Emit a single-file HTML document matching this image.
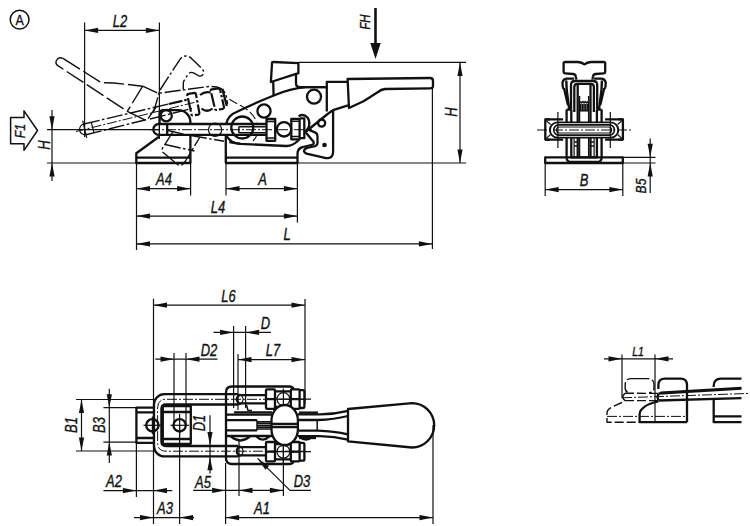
<!DOCTYPE html>
<html><head><meta charset="utf-8"><title>Toggle clamp drawing</title>
<style>
html,body{margin:0;padding:0;background:#fff;}
body{width:750px;height:526px;overflow:hidden;font-family:"Liberation Sans",sans-serif;}
svg{display:block;}
path,circle,ellipse,rect{fill:none;stroke:#111;stroke-linecap:butt;stroke-linejoin:round;}
.k{stroke-width:2.3;}
.m{stroke-width:1.5;}
.t{stroke-width:1.2;}
.p{stroke-width:1.4;stroke-dasharray:16 2.5 2.5 2.5;}
.pk{stroke-width:2.2;stroke-dasharray:14 2 2.5 2;}
.d{stroke-width:1.4;stroke-dasharray:20 4;}
.c{stroke-width:1.0;stroke-dasharray:10 2 2 2;}
.f{fill:#111;stroke:none;}
.w{fill:#fff;}
text{stroke:#111;stroke-width:0.35;font-family:"Liberation Sans",sans-serif;font-style:italic;fill:#111;text-anchor:middle;}
</style></head><body>
<svg width="750" height="526" viewBox="0 0 750 526">
<rect x="0" y="0" width="750" height="526" style="fill:#fff;stroke:none"/>
<circle class="m" cx="19.6" cy="19.6" r="9.4"/>
<text transform="translate(19.6 25) scale(0.8 1)" font-size="15.5" style="font-style:normal">A</text>
<path class="t" d="M84.6 22.5L84.6 137" />
<path class="t" d="M159.4 22.5L159.4 139" />
<path class="t" d="M84.6 30.4L159.4 30.4" />
<path class="f" d="M84.60 30.40L98.10 27.80L98.10 33.00Z"/>
<path class="f" d="M159.40 30.40L145.90 33.00L145.90 27.80Z"/>
<text transform="translate(120 26.6) scale(0.81 1)" font-size="16">L2</text>
<path class="m" d="M10.6 117.4H24V110.8L37.5 130.5L24 150.3V143.7H10.6Z" />
<text transform="translate(25 131) rotate(-90) scale(0.81 1)" font-size="15.5">F1</text>
<path class="t" d="M47 129.7L160 129.7" />
<path class="t" d="M47 163L136 163" />
<path class="t" d="M52 110L52 181" />
<path class="f" d="M52.00 129.70L49.40 116.20L54.60 116.20Z"/>
<path class="f" d="M52.00 163.00L54.60 176.50L49.40 176.50Z"/>
<text transform="translate(49.5 145) rotate(-90) scale(0.81 1)" font-size="16">H</text>
<path class="t" d="M136.5 162.8L136.5 250" />
<path class="t" d="M190.6 162.8L190.6 195.5" />
<path class="t" d="M226 152L226 195.5" />
<path class="t" d="M297.4 162.8L297.4 222.5" />
<path class="t" d="M136.5 188.7L190.6 188.7" />
<path class="f" d="M136.50 188.70L150.00 186.10L150.00 191.30Z"/>
<path class="f" d="M190.60 188.70L177.10 191.30L177.10 186.10Z"/>
<text transform="translate(164 184.7) scale(0.81 1)" font-size="16">A4</text>
<path class="t" d="M226 188.7L297.4 188.7" />
<path class="f" d="M226.00 188.70L239.50 186.10L239.50 191.30Z"/>
<path class="f" d="M297.40 188.70L283.90 191.30L283.90 186.10Z"/>
<text transform="translate(262.5 184.7) scale(0.81 1)" font-size="16">A</text>
<path class="t" d="M136.5 216.1L297.4 216.1" />
<path class="f" d="M136.50 216.10L150.00 213.50L150.00 218.70Z"/>
<path class="f" d="M297.40 216.10L283.90 218.70L283.90 213.50Z"/>
<text transform="translate(218 212.5) scale(0.81 1)" font-size="16">L4</text>
<path class="t" d="M432.4 88L432.4 249" />
<path class="t" d="M136.5 243.9L432.4 243.9" />
<path class="f" d="M136.50 243.90L150.00 241.30L150.00 246.50Z"/>
<path class="f" d="M432.40 243.90L418.90 246.50L418.90 241.30Z"/>
<text transform="translate(287 239.5) scale(0.81 1)" font-size="16">L</text>
<path class="t" d="M298.4 62.4L466 62.4" />
<path class="t" d="M297.4 163L466 163" />
<path class="t" d="M460 62.4L460 163" />
<path class="f" d="M460.00 62.40L462.60 75.90L457.40 75.90Z"/>
<path class="f" d="M460.00 163.00L457.40 149.50L462.60 149.50Z"/>
<text transform="translate(457 112) rotate(-90) scale(0.81 1)" font-size="16">H</text>
<path class="" d="M375.5 8V45"  style="stroke-width:2.6"/>
<path class="f" d="M375.5 59L370.3 43H380.7Z"/>
<text transform="translate(370.2 22) rotate(-90) scale(0.81 1)" font-size="14">FH</text>
<path class="t" d="M545.2 163L545.2 196" />
<path class="t" d="M622.8 163L622.8 196" />
<path class="t" d="M545.2 189.6L622.8 189.6" />
<path class="f" d="M545.20 189.60L558.70 187.00L558.70 192.20Z"/>
<path class="f" d="M622.80 189.60L609.30 192.20L609.30 187.00Z"/>
<text transform="translate(584 185.5) scale(0.81 1)" font-size="16">B</text>
<path class="t" d="M622.8 157.3L655.5 157.3" />
<path class="t" d="M622.8 163L655.5 163" />
<path class="t" d="M650.2 138.6L650.2 193" />
<path class="f" d="M650.20 157.30L647.60 143.80L652.80 143.80Z"/>
<path class="f" d="M650.20 163.00L652.80 176.50L647.60 176.50Z"/>
<text transform="translate(645.5 186) rotate(-90) scale(0.81 1)" font-size="15">B5</text>
<path class="t" d="M622 354.5L622 398" />
<path class="t" d="M655 354.5L655 421.7" />
<path class="t" d="M604 358.8L673 358.8" />
<path class="f" d="M622.00 358.80L608.50 361.40L608.50 356.20Z"/>
<path class="f" d="M655.00 358.80L668.50 356.20L668.50 361.40Z"/>
<text transform="translate(638 356) scale(0.81 1)" font-size="13">L1</text>
<path class="t" d="M153.5 298.7L153.5 456" />
<path class="t" d="M305 299L305 404" />
<path class="t" d="M153.5 305.2L305 305.2" />
<path class="f" d="M153.50 305.20L167.00 302.60L167.00 307.80Z"/>
<path class="f" d="M305.00 305.20L291.50 307.80L291.50 302.60Z"/>
<text transform="translate(228.5 301.5) scale(0.81 1)" font-size="16">L6</text>
<path class="t" d="M233.6 326L233.6 408" />
<path class="t" d="M245.6 326L245.6 408" />
<path class="t" d="M213.5 332.4L271 332.4" />
<path class="f" d="M233.60 332.40L220.10 335.00L220.10 329.80Z"/>
<path class="f" d="M245.60 332.40L259.10 329.80L259.10 335.00Z"/>
<text transform="translate(265.5 329.3) scale(0.81 1)" font-size="16">D</text>
<path class="t" d="M238 354L238 410" />
<path class="t" d="M238 359.6L305 359.6" />
<path class="f" d="M238.00 359.60L251.50 357.00L251.50 362.20Z"/>
<path class="f" d="M305.00 359.60L291.50 362.20L291.50 357.00Z"/>
<text transform="translate(273 355.6) scale(0.81 1)" font-size="16">L7</text>
<path class="t" d="M174 353L174 425" />
<path class="t" d="M186 353L186 425" />
<path class="t" d="M155.3 359.2L217.5 359.2" />
<path class="f" d="M174.00 359.20L160.50 361.80L160.50 356.60Z"/>
<path class="f" d="M186.00 359.20L199.50 356.60L199.50 361.80Z"/>
<text transform="translate(209 356) scale(0.81 1)" font-size="16">D2</text>
<path class="t" d="M76 399.5L155 399.5" />
<path class="t" d="M76 451L155 451" />
<path class="t" d="M81.5 399.5L81.5 451" />
<path class="f" d="M81.50 399.50L84.10 413.00L78.90 413.00Z"/>
<path class="f" d="M81.50 451.00L78.90 437.50L84.10 437.50Z"/>
<text transform="translate(77 425) rotate(-90) scale(0.81 1)" font-size="16">B1</text>
<path class="t" d="M103.4 407.7L137 407.7" />
<path class="t" d="M103.4 442.1L137 442.1" />
<path class="t" d="M109.3 388.7L109.3 463.1" />
<path class="f" d="M109.30 407.70L106.70 394.20L111.90 394.20Z"/>
<path class="f" d="M109.30 442.10L111.90 455.60L106.70 455.60Z"/>
<text transform="translate(105 425) rotate(-90) scale(0.81 1)" font-size="16">B3</text>
<path class="t" d="M136.4 443L136.4 497" />
<path class="t" d="M153.5 456L153.5 524" />
<path class="t" d="M103.4 490.6L172.3 490.6" />
<path class="f" d="M136.40 490.60L122.90 493.20L122.90 488.00Z"/>
<path class="f" d="M153.50 490.60L167.00 488.00L167.00 493.20Z"/>
<text transform="translate(114 487) scale(0.81 1)" font-size="16">A2</text>
<path class="t" d="M179.6 425L179.6 524" />
<path class="t" d="M134 517.6L194 517.6" />
<path class="f" d="M153.50 517.60L140.00 520.20L140.00 515.00Z"/>
<path class="f" d="M179.60 517.60L193.10 515.00L193.10 520.20Z"/>
<text transform="translate(165 514) scale(0.81 1)" font-size="16">A3</text>
<path class="t" d="M210 415.2L210 473.6" />
<path class="f" d="M210.00 445.60L207.40 432.10L212.60 432.10Z"/>
<path class="f" d="M210.00 456.80L212.60 470.30L207.40 470.30Z"/>
<text transform="translate(205 423) rotate(-90) scale(0.81 1)" font-size="16">D1</text>
<path class="t" d="M225.6 463L225.6 524" />
<path class="t" d="M239 440L239 496" />
<path class="t" d="M283.4 440L283.4 496" />
<path class="t" d="M193 490.4L283.4 490.4" />
<path class="f" d="M225.60 490.40L212.10 493.00L212.10 487.80Z"/>
<path class="f" d="M239.00 490.40L252.50 487.80L252.50 493.00Z"/>
<path class="f" d="M283.40 490.40L269.90 493.00L269.90 487.80Z"/>
<text transform="translate(203 487.5) scale(0.81 1)" font-size="16">A5</text>
<path class="t" d="M257.6 458.4L290 490.4H311" />
<path class="f" d="M257.60 458.40L269.04 466.03L265.39 469.73Z"/>
<text transform="translate(302 487) scale(0.81 1)" font-size="16">D3</text>
<path class="t" d="M433 425L433 524" />
<path class="t" d="M225.6 517.6L433 517.6" />
<path class="f" d="M225.60 517.60L239.10 515.00L239.10 520.20Z"/>
<path class="f" d="M433.00 517.60L419.50 520.20L419.50 515.00Z"/>
<text transform="translate(262 513.6) scale(0.81 1)" font-size="16">A1</text>
<path class="k" d="M136.3 163V153.2L159 136.8" />
<path class="k" d="M136.3 157.7H190.4" />
<path class="k" d="M135.5 163H191.2" />
<path class="k" d="M159.6 124.2V113.5Q159.6 110.1 163.5 110.1H178.4A12 12 0 0 1 190.4 122.1V124" />
<path class="k" d="M190.4 135V163" />
<circle class="k" cx="166.2" cy="115.7" r="5.6"/>
<path class="k" d="M266.5 124H158.8A5.4 5.4 0 0 0 158.8 134.9H266.5" />
<path class="k" d="M167.2 124V134.9" />
<path class="t" d="M159.4 124L159.4 135" />
<path class="c" d="M150 129.7H312" />
<circle class="t" cx="215.1" cy="129.8" r="6.6"/>
<path class="m" d="M238.8 126.8H265.5M238.8 132.8H265.5M238.8 126.8V132.8" />
<circle class="k" cx="242.3" cy="127.5" r="11"/>
<path class="k" d="M226.2 123.7A16.5 16.5 0 0 1 236.5 112Q256 102.5 274.4 95.2Q290 88.5 306 87.1H326.8" />
<path class="k" d="M226.2 135.3A16.5 16.5 0 0 0 240.5 143.9" />
<path class="k" d="M225.8 135.3V163" />
<path class="k" d="M229.3 142L240.5 143.9L286 146Q293 146.2 299 139.8" />
<path class="k" d="M225.8 157.7H297.5" />
<path class="k" d="M225 163H298.3" />
<path class="k" d="M297.5 163V154Q297.6 148 303 147L312 144.8" />
<circle class="k" cx="264" cy="111" r="6.6"/>
<circle class="k" cx="314" cy="96.7" r="7"/>
<path class="k" d="M266.5 119H275.2V140.8H266.5Z" />
<path class="m" d="M266.5 121.5H275.2M266.5 138H275.2" />
<circle class="k" cx="284" cy="129.3" r="7.2"/>
<path class="k" d="M291.3 118.9H299.6V139.3H291.3Z" />
<path class="m" d="M291.3 121.2H299.6M291.3 136.5H299.6" />
<path class="k" d="M300 118.4H304.3V138.2H300" />
<path class="k" d="M298.6 116.3Q303.3 113.3 307.5 117.5Q310.5 121.5 308.5 127.8L305.6 131.5" />
<path class="k" d="M272 63.2Q272 62 273.5 62L298.4 63.1V73.2L270.9 82Z" />
<path class="k" d="M273.2 81.2L273.6 95.4" />
<path class="k" d="M296 74V83.5Q296 87 300 87.1H326" />
<path class="k" d="M326.8 111.6V81.8H347.6" />
<path class="k" d="M305.4 132L327 114.5Q330 112 333 110.2L348 105.3" />
<path class="k" d="M333.1 111V152Q333.1 158.6 326 158.1L306.5 153.6Q303.3 152 304.3 150Q305 148.3 307 148L315 146.2Q317.6 145.5 317.5 142.4V136.5Q317.3 133 315 132.4L309 130" />
<path class="k" d="M312 144.8Q314.5 144 313.5 141.8L305.4 132" />
<circle class="k" cx="321.6" cy="123.1" r="3.6"/>
<circle class="k" cx="324.5" cy="145" r="1.2"/>
<path class="k" d="M347.6 79L430 78Q433 78 433 81V86Q433 88.4 430 88.4L385 89Q381 89.5 378 92L364 101L349 108Z" />
<path class="d" d="M63 58.4L100 81.8Q101 82.7 103 82.8L114 83L142.7 86.2" />
<path class="d" d="M63 58.4Q58.5 56.5 56.4 60.5Q55 63.5 57.8 65.6L127.3 111.3" />
<path class="d" d="M142.7 86.2L127.3 111.3" />
<path class="d" d="M127.3 111.3L146.7 120.7L156 107" />
<path class="p" d="M142.7 86.2L156.7 92.7Q160 93.5 166 92.3L206.7 86.7Q216 85.8 221 88.5Q225.3 91 226.5 97L227.5 104" />
<path class="p" d="M153.3 112.7L160 90L180 59.3Q183 55.5 187 56Q190 56.5 192 59L202 68.7Q204.5 71.5 203.3 74Q202 76.5 199 76L193.5 72.8Q190 71.5 188 74.5L183.8 81Q183.3 82 183.3 84V89.5" />
<path class="p" d="M84 124L168.7 104M86 134.7L146 119.7" />
<path class="t" d="M84 124A5.3 5.3 0 0 0 86 134.7" />
<path class="c" d="M76 131.5L196 102" />
<path class="t" d="M91.3 122.7L94 132.7" />
<path class="t" d="M82.7 120.7L86.7 138" />
<path class="p" d="M150 119L192 108.5" />
<path class="pk" d="M168.7 104L188 99.5" />
<path class="pk" d="M187.3 95.2Q187 94 188.5 93.8L194.5 92.8Q195.6 92.7 195.9 94L199.4 113Q199.6 114.3 198.3 114.6L193 115.5Q191.8 115.6 191.5 114.4Z" />
<path class="pk" d="M210.7 90.8Q210.5 89.6 211.8 89.4L218.5 88.4Q219.8 88.3 220.1 89.6L224 107.2Q224.2 108.5 222.8 108.8L216.5 110Q215.3 110.1 215 109Z" />
<path class="k" d="M222.3 88.7L226.8 106" />
<path class="pk" d="M200 95Q205 91 210.7 92.5M201.5 108.5Q207 113 212.5 108.5" />
<path class="d" d="M229.3 99.3L240 105.3Q252 111 256.8 122M256.8 135.2Q255.5 138.5 253 141"  style="stroke-dasharray:9 3;stroke-width:1.1"/>
<path class="p" d="M173 131.5L162.6 148Q161 151 163.5 152.8L177.5 164.5Q180.5 166.5 183 164L185.5 161L200 137" />
<path class="p" d="M165 144.5L194.5 151" />
<path class="p" d="M168 130.5L184.8 134.4L224 141.3" />
<path class="k" d="M545.2 157.3H622.8V163H545.2Z" />
<path class="k" d="M566.6 109.6V157.5Q566.6 162 571 162H597.2Q601.6 162 601.6 157.5V109.6" />
<path class="k" d="M571.3 109.6V157.3H596.9V109.6" />
<path class="k" d="M577.7 84V157.3" />
<path class="k" d="M590.5 84V157.3" />
<path class="m" d="M579.5 96V122M579.5 138V157.3" />
<path class="m" d="M588.7 96V122M588.7 138V157.3" />
<path class="t" d="M574.1 138V157.3" />
<path class="t" d="M594.1 138V157.3" />
<path class="m" d="M574.1 142H577.7M574.1 146H577.7" />
<path class="m" d="M594.1 142H590.5M594.1 146H590.5" />
<path class="k" d="M549.9 119.4H545.3V139.6H549.9" />
<path class="k" d="M618.3 119.4H622.9V139.6H618.3" />
<path class="k" d="M545.3 119.4H563.1M545.3 139.6H563.1" />
<path class="k" d="M622.9 119.4H605.1M622.9 139.6H605.1" />
<path class="t" d="M546.3 120.6L550.6 124.5M546.3 138.4L550.6 134.5" />
<path class="t" d="M621.9 120.6L617.6 124.5M621.9 138.4L617.6 134.5" />
<rect class="k w" x="549.9" y="122.4" width="68.4" height="15.2" rx="7.6" style="stroke-width:1.9"/>
<rect class="k" x="553.7" y="124.9" width="60.8" height="10.2" rx="5.1" style="stroke-width:1.6"/>
<rect class="m" x="556.5" y="127" width="55.2" height="6" rx="3" style="stroke-width:1.1"/>
<path class="c" d="M537 130H631" />
<path class="t" d="M557.9 112L557.9 148" />
<path class="t" d="M610.3 112L610.3 148" />
<path class="k" d="M576.4 79.6L575.8 76.5Q575.5 74.3 573 74L565 73.3Q563.6 73.2 563.6 71.8V63.5Q563.6 62 565 62H578Q582 62.3 584.4 64.4Q587 62.3 591 62H603.8Q605.2 62 605.2 63.5V71.8Q605.2 73.2 603.8 73.3L595.8 74Q593.3 74.3 593 76.5L592.4 79.6" />
<path class="k" d="M574.1 78.6H566.5Q563.1 79 562.5 82.5L562.7 86.5Q562.9 88.6 564.1 88.8L567.9 105" />
<path class="k" d="M594.1 78.6H601.7Q605.1 79 605.7 82.5L605.5 86.5Q605.3 88.6 604.1 88.8L600.3 105" />
<path class="k" d="M566.3 80.5L566.7 90L569.2 109.4"  style="stroke-width:2.4"/>
<path class="k" d="M601.9 80.5L601.5 90L599.0 109.4"  style="stroke-width:2.4"/>
<path class="k" d="M571 109.5V85Q571 81 575 81H593.2Q597.2 81 597.2 85V109.5" />
<path class="k" d="M574.3 112V87Q574.3 83.8 577.5 83.8H590.7Q593.9 83.8 593.9 87V112" />
<path class="m" d="M580 101.5L581.4 103L582.8 101.5L584.1 103L585.4 101.5L586.8 103L588.2 101.5" />
<path class="m" d="M580.6 104V110.5M582.4 104V110.5M584.1 104V110.5M585.8 104V110.5M587.6 104V110.5" />
<path class="m" d="M579.6 110.8H588.6" />
<path class="k" d="M566.6 109.6H571.3M596.9 109.6H601.6" />
<path class="k" d="M154 407.6H136.4V442.8H154" />
<path class="k" d="M136.4 412.4H154M136.4 438H154" />
<path class="k" d="M162.8 406H190.8V443.8H162.8Z" />
<path class="k" d="M162.8 412H190.8M162.8 439H190.8" />
<path class="k" d="M238 394.2H164.4A10.4 10.4 0 0 0 154 404.6V446A10.4 10.4 0 0 0 164.4 456.4H238" />
<path class="k" d="M238 395.2H266M238 403.4H266M238 447.2H266M238 455.4H266" />
<path class="k" d="M238 404.5H166Q161.4 404.5 161.4 409V441.5Q161.4 446 166 446H238" />
<path class="c" d="M305 399.3H166Q157.6 399.3 157.6 408V442.5Q157.6 451.2 166 451.2H305" />
<circle class="k" cx="152.4" cy="425.3" r="6.2"/>
<circle class="k" cx="179.6" cy="425.3" r="6.2"/>
<path class="t" d="M143.5 425.3L161 425.3" />
<path class="t" d="M170.5 425.3L189 425.3" />
<path class="t" d="M152.4 416.5L152.4 434" />
<path class="t" d="M179.6 414L179.6 436" />
<path class="k" d="M290 386.5H232Q226 386.5 226 392.5V458Q226 464 232 464H290" />
<path class="k" d="M290 386.5Q293 387 293.5 389.4M290 464Q293 463.5 293.5 461.2" />
<path class="k" d="M240 394.3Q233.5 399.3 240 404.5M240 446Q233.5 451.2 240 456.4" />
<path class="t" d="M240 394.3Q246.5 399.3 240 404.5M240 446Q246.5 451.2 240 456.4" />
<path class="k" d="M226 414.6H272M226 436H272" />
<path class="k" d="M234 412.4H272" />
<path class="k" d="M226 420.2H257M226 430.4H257" />
<path class="m" d="M257 421.8H271.6M257 423.6H271.6M257 425.4H271.6M257 427.2H271.6M257 429H271.6M257 420.2V430.4" />
<path class="m" d="M246.5 405L248 410.5H252" />
<path class="k" d="M230.8 436.4Q240.4 444.5 250 436.4M256.4 436.4Q262.8 443 269.2 436.4M299.6 436.4Q306 443 312.4 436.4" />
<path class="k" d="M267 389.4H274Q275 389.4 275 390.4V407.79999999999995Q275 408.79999999999995 274 408.79999999999995H267Q266 408.79999999999995 266 407.79999999999995V390.4Q266 389.4 267 389.4Z" />
<path class="k" d="M266 399.09999999999997H275" />
<path class="k" d="M291.8 389.4H298.6Q299.6 389.4 299.6 390.4V407.79999999999995Q299.6 408.79999999999995 298.6 408.79999999999995H291.8Q290.8 408.79999999999995 290.8 407.79999999999995V390.4Q290.8 389.4 291.8 389.4Z" />
<path class="k" d="M290.8 399.09999999999997H299.6" />
<path class="k" d="M299.6 390.2H303Q304.4 390.2 304.4 391.59999999999997V406.59999999999997Q304.4 408.0 303 408.0H299.6" />
<circle class="t" cx="283.4" cy="399.09999999999997" r="6.4"/>
<path class="t" d="M283.4 388.4L283.4 409.79999999999995" />
<path class="t" d="M275 399.09999999999997L311 399.09999999999997" />
<path class="k" d="M275 391.4H290.8M275 406.79999999999995H290.8" />
<path class="k" d="M267 442H274Q275 442 275 443V460.4Q275 461.4 274 461.4H267Q266 461.4 266 460.4V443Q266 442 267 442Z" />
<path class="k" d="M266 451.7H275" />
<path class="k" d="M291.8 442H298.6Q299.6 442 299.6 443V460.4Q299.6 461.4 298.6 461.4H291.8Q290.8 461.4 290.8 460.4V443Q290.8 442 291.8 442Z" />
<path class="k" d="M290.8 451.7H299.6" />
<path class="k" d="M299.6 442.8H303Q304.4 442.8 304.4 444.2V459.2Q304.4 460.6 303 460.6H299.6" />
<circle class="t" cx="283.4" cy="451.7" r="6.4"/>
<path class="t" d="M283.4 441L283.4 462.4" />
<path class="t" d="M275 451.7L311 451.7" />
<path class="k" d="M275 444H290.8M275 459.4H290.8" />
<rect class="k w" x="271.5" y="405" width="26.4" height="40" rx="13.2" ry="15.5"/>
<path class="k" d="M271.6 423.8H297.8M271.6 427H297.8" />
<path class="k" d="M298 414.4H320Q334 414.2 348 410.8" />
<path class="k" d="M298 436.2H320Q334 436.6 348 439.6" />
<path class="k" d="M299 420H318Q334 419.6 348 416M299 430.6H318Q334 431 348 434.4" />
<path class="m" d="M317.2 420V430.6" />
<path class="k" d="M299 412.6H318" />
<path class="k" d="M299 438H316" />
<path class="k" d="M348 409L412 403.1A22.2 22.2 0 0 1 412 447.5L348 441.4Z" />
<path class="d" d="M638 378.6H647.5Q654 378.6 654 384.5V388Q654 392.6 649 392.6M638 378.6H631.5Q625.2 378.6 625.2 384.5V388Q625.2 392.6 630 392.6"  style="stroke-dasharray:11 3"/>
<path class="k" d="M658.4 389V385Q658.4 378.6 665 378.6H680.5Q687 378.6 687 385V422.2" />
<path class="k" d="M658.6 393.5L741.5 388.7M658.6 400.5L741.5 398.2" />
<path class="m" d="M660.5 392.2L741.5 387.5" />
<path class="k" d="M658.6 393.5Q656.5 397 658.6 400.5" />
<path class="c" d="M622 397.8L750 393.4" />
<path class="d" d="M625 393.2L658 393.4M625 400.6L658 400.6"  style="stroke-dasharray:9 3"/>
<path class="m" d="M625 393.2Q620.5 397 625 400.6" />
<path class="k" d="M741.5 378.6H721Q713.7 378.6 713.7 386V387" />
<path class="k" d="M713.7 400V422.2H741.5M713.7 416.4H741.5" />
<path class="k" d="M658.4 401.3L654 402.5Q646 404.5 641.5 409.5Q639.6 411.5 639.6 414V422.2H687" />
<path class="d" d="M622 402.5L612 407Q607 409.5 607 413V422.2H639"  style="stroke-dasharray:9 3"/>
<path class="c" d="M607 416.4H687" />
</svg>
</body></html>
